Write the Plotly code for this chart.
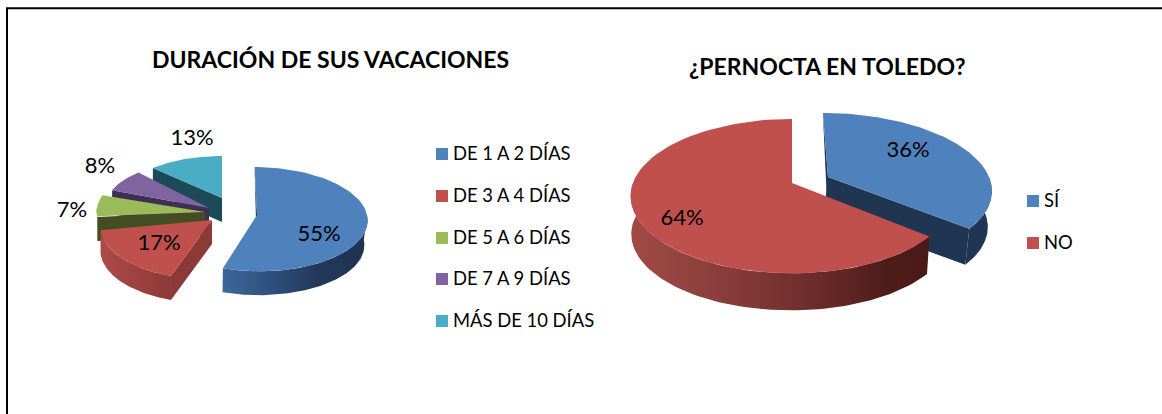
import math
import plotly.graph_objects as go

# ---- data ----
title_left = "DURACIÓN DE SUS VACACIONES"
categories_left = ["DE 1 A 2 DÍAS", "DE 3 A 4 DÍAS", "DE 5 A 6 DÍAS", "DE 7 A 9 DÍAS", "MÁS DE 10 DÍAS"]
values_left = [55, 17, 7, 8, 13]
title_right = "¿PERNOCTA EN TOLEDO?"
categories_right = ["SÍ", "NO"]
values_right = [36, 64]

# ---- styles ----
TOP = {"blue": "#4F81BD", "red": "#C0504D", "green": "#9BBB59", "purple": "#8064A2", "cyan": "#4BACC6"}
FONT = "Lato, 'Open Sans', sans-serif"


def angles(values):
    """Cumulative clockwise start/end angle of each slice, from 12 o'clock."""
    total = sum(values)
    out, acc = [], 0.0
    for v in values:
        out.append((acc / total * 2 * math.pi, (acc + v) / total * 2 * math.pi))
        acc += v
    return out


def project(th, g):
    """Perspective projection of a point on the rim of a tilted disc."""
    u, v = math.sin(th), -math.cos(th)
    d = 1 - g["k"] * v
    dy = g["ry"] * v / d + g.get("oy", 0)
    dx = g["rx"] * u / d + g.get("s", 0) * dy
    return g["ax"] + dx, g["ay"] + dy


def drop(pt, g):
    """Same point on the lower face of the slice."""
    sc = g.get("scale", 1.0)
    return (g["ax"] + (pt[0] - g["ax"]) * sc + g.get("lean", 0),
            g["ay"] + (pt[1] - g["ay"]) * sc + g["depth"])


def arc(a, b, n=90):
    return [a + (b - a) * i / n for i in range(n + 1)]


def poly(fig, pts, color=None, gradient=None):
    xs = [p[0] for p in pts] + [pts[0][0]]
    ys = [p[1] for p in pts] + [pts[0][1]]
    kw = dict(x=xs, y=ys, mode="lines", fill="toself", line=dict(width=0), hoverinfo="skip", showlegend=False)
    if gradient:
        kw["fillgradient"] = dict(type="horizontal", colorscale=gradient)
    else:
        kw["fillcolor"] = color
    fig.add_trace(go.Scatter(**kw))


def slice3d(fig, th, g):
    a, b = th
    apex = (g["ax"], g["ay"])
    rim = [project(t, g) for t in arc(a, b)]
    # outer wall
    if g.get("wall_range"):
        lo = max(a, math.radians(g["wall_range"][0]))
        hi = min(b, math.radians(g["wall_range"][1]))
        top = [project(t, g) for t in arc(lo, hi)]
        bot = [drop(p, g) for p in top]
        poly(fig, top + bot[::-1], g.get("wall"), g.get("wall_grad"))
    # radial faces
    for which in g.get("faces", ()):
        p = rim[0] if which == "start" else rim[-1]
        poly(fig, [apex, p, drop(p, g), drop(apex, g)], g["face"])
    # thin sliver of the face at 12 o'clock
    if g.get("sliver") is not None:
        poly(fig, [apex, rim[0], (g["ax"] + g["sliver"], g["ay"] + g["depth"])], g["face"])
    # upper face
    poly(fig, [apex] + rim, g["top"])


geom_left = [
    dict(ax=257, ay=215, rx=110, ry=51.8, k=0.08, s=0.05, depth=25, lean=-1, scale=0.98, top=TOP["blue"],
         face="#1F3552", sliver=-0.5, wall_range=(90, 200),
         wall_grad=[[0, "#3D689C"], [0.3, "#2F5280"], [0.65, "#22395A"], [1, "#1E3350"]]),
    dict(ax=212, ay=220, rx=111, ry=54.4, k=0.08, s=-0.07, depth=24, top=TOP["red"], face="#8C3A38",
         faces=("start",), wall_range=(190, 270),
         wall_grad=[[0, "#AD4B48"], [1, "#8C3A38"]]),
    dict(ax=205, ay=212, rx=108, ry=50, k=0.08, oy=-4.5, depth=24, top=TOP["green"], face="#434F22",
         faces=("start",), wall="#4F5F28", wall_range=(250, 270)),
    dict(ax=209, ay=208, rx=102, ry=44, k=0.08, oy=-7, depth=24, top=TOP["purple"], face="#3F2F55", faces=("start",)),
    dict(ax=222, ay=198, rx=100, ry=43.3, k=0.08, oy=-1.9, depth=24, top=TOP["cyan"], face="#1D4A58", faces=("start",)),
]
geom_right = [
    dict(ax=828, ay=177, rx=161, ry=73.6, k=0.15, s=0.08, depth=36, lean=-4, top=TOP["blue"], face="#1F3552",
         faces=("end",), sliver=-0.5, wall="#1F3552", wall_range=(90, 135)),
    dict(ax=792, ay=183, rx=159, ry=74.9, k=0.17, depth=38, scale=0.99, lean=-1, top=TOP["red"], face="#4A1A18",
         wall_range=(125, 275),
         wall_grad=[[0, "#A04A47"], [0.3, "#8A3E3B"], [0.6, "#6E2D2B"], [0.85, "#4E1D1B"], [1, "#4A1A18"]]),
]

fig = go.Figure()

th_left = angles(values_left)
for i in (4, 3, 2, 1, 0):  # back to front
    slice3d(fig, th_left[i], geom_left[i])
th_right = angles(values_right)
for i in (0, 1):
    slice3d(fig, th_right[i], geom_right[i])

# slice labels
label_x = [319, 159, 72, 100, 192, 908, 682]
label_y = [235, 244, 211, 167, 139, 151, 219]
labels = [f"{v}%" for v in values_left + values_right]
fig.add_trace(go.Scatter(x=label_x, y=label_y, text=labels, mode="text", textposition="middle center",
                         textfont=dict(family=FONT, size=22, color="#000"), hoverinfo="skip", showlegend=False))

# legends
leg_colors = [TOP["blue"], TOP["red"], TOP["green"], TOP["purple"], TOP["cyan"], TOP["blue"], TOP["red"]]
leg_x = [442] * 5 + [1033] * 2
leg_y = [154, 196, 238, 279, 321, 201, 243]
leg_tx = [453] * 5 + [1044] * 2
leg_ty = [155, 197, 239, 280, 322, 202, 244]
fig.add_trace(go.Scatter(x=leg_x, y=leg_y, mode="markers", hoverinfo="skip", showlegend=False,
                         marker=dict(symbol="square", size=12, color=leg_colors, line=dict(width=0))))
fig.add_trace(go.Scatter(x=leg_tx, y=leg_ty, text=categories_left + categories_right, mode="text",
                         textposition="middle right", hoverinfo="skip", showlegend=False,
                         textfont=dict(family=FONT, size=18.4, color="#000")))

# titles
for txt, x, y in ((title_left, 330, 59), (title_right, 827, 66)):
    fig.add_annotation(x=x, y=y, text=f"<b>{txt}</b>", showarrow=False, xanchor="center", yanchor="middle",
                       font=dict(family=FONT, size=23, color="#000"))

# frame
fig.add_shape(type="line", x0=6, x1=1162, y0=8.2, y1=8.2, line=dict(color="#000", width=2))
fig.add_shape(type="line", x0=7, x1=7, y0=8, y1=414, line=dict(color="#000", width=2))

fig.update_layout(
    width=1162, height=414, margin=dict(l=0, r=0, t=0, b=0), autosize=False,
    paper_bgcolor="#fff", plot_bgcolor="#fff", showlegend=False,
    xaxis=dict(range=[0, 1162], visible=False, fixedrange=True),
    yaxis=dict(range=[414, 0], visible=False, fixedrange=True),
)
fig.write_html("out.html", config={"displayModeBar": False},
               post_script="document.body.style.margin='0';document.body.style.overflow='hidden';")
